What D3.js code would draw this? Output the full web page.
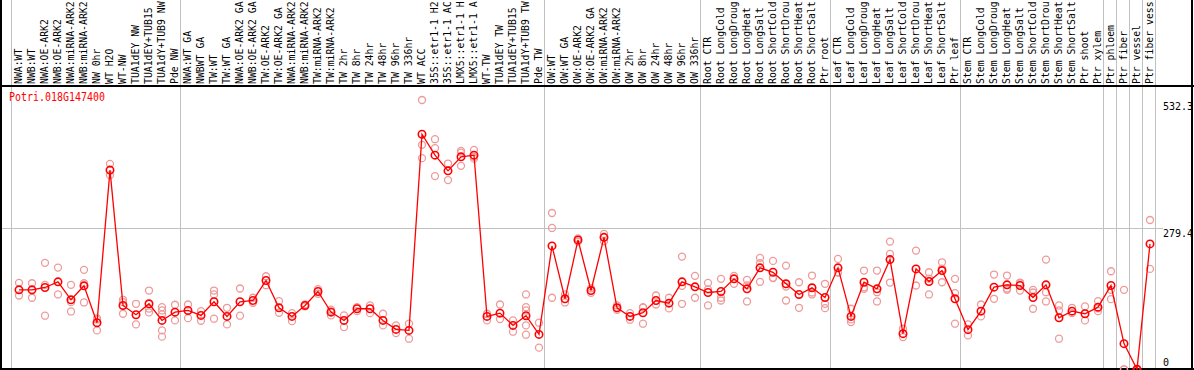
<!DOCTYPE html>
<html><head><meta charset="utf-8">
<script src="https://cdn.jsdelivr.net/npm/d3@7"></script>
<style>body{margin:0;background:#fff}svg{display:block}</style>
</head><body>
<script>
const geneName = "Potri.018G147400";
const categories = ["NWA:WT","NWB:WT","NWA:OE-ARK2","NWB:OE-ARK2","NWA:miRNA-ARK2","NWB:miRNA-ARK2","NW 0hr","WT H2O","WT-NW","TUA1dEY NW","TUA1dEY+TUB15","TUA1dY+TUB9 NW","Pde NW",
"NWA:WT GA","NWBWT GA","TW:WT","TW:WT GA","NWA:OE-ARK2 GA","NWB:OE-ARK2 GA","TW:OE-ARK2","TW:OE-ARK2 GA","NWA:miRNA-ARK2","NWB:miRNA-ARK2","TW:miRNA-ARK2","TW:miRNA-ARK2","TW 2hr","TW 8hr","TW 24hr","TW 48hr","TW 96hr","TW 336hr","WT ACC","35S::etr1-1 H2","35S::etr1-1 AC","LMX5::etr1-1 H","LMX5::etr1-1 A","WT-TW","TUA1dEY TW","TUA1dEY+TUB15","TUA1dY+TUB9 TW","Pde TW",
"OW:WT","OW:WT GA","OW:OE-ARK2","OW:OE-ARK2 GA","OW:miRNA-ARK2","OW:miRNA-ARK2","OW 2hr","OW 8hr","OW 24hr","OW 48hr","OW 96hr","OW 336hr",
"Root CTR","Root LongCold","Root LongDroug","Root LongHeat","Root LongSalt","Root ShortCold","Root ShortDrou","Root ShortHeat","Root ShortSalt","Ptr root",
"Leaf CTR","Leaf LongCold","Leaf LongDroug","Leaf LongHeat","Leaf LongSalt","Leaf ShortCold","Leaf ShortDrou","Leaf ShortHeat","Leaf ShortSalt","Ptr leaf",
"Stem CTR","Stem LongCold","Stem LongDroug","Stem LongHeat","Stem LongSalt","Stem ShortCold","Stem ShortDrou","Stem ShortHeat","Stem ShortSalt","Ptr shoot","Ptr xylem",
"Ptr phloem","Ptr fiber","Ptr vessel","Ptr fiber vess"];
const groupStarts = [0,13,41,53,63,73,84,85,86,87,88];
const means = [157.1,157.1,161.7,172.9,137.4,165.0,92.1,393.7,126.2,107.8,129.5,96.6,113.0,
116.3,106.5,133.5,104.5,133.5,136.0,175.5,121.6,104.5,126.2,153.8,113.0,96.6,119.7,119.7,96.6,78.9,76.9,464.7,423.3,392.3,419.9,423.3,104.5,111.0,86.7,105.9,69.0,
243.9,139.4,255.7,155.7,260.8,121.6,104.5,111.8,136.0,130.7,172.9,163.0,
151.8,153.8,178.8,159.1,200.5,191.8,169.0,147.9,161.1,141.9,
200.5,104.5,172.1,159.1,216.9,70.4,198.5,173.5,195.2,139.4,
78.3,114.9,162.3,167.0,165.6,141.9,167.0,101.9,114.9,109.8,122.8,
165.6,50.7,0,247.8];
const replicates = [[170.9,145.9],[170.1,141.4],[210.4,167.0,105.9],[201.1,147.9],[167.0,132.7,114.3],[196.6,170.1,132.1],[100.5,98.5,76.9],[406.1,383.8],[137.4,132.7,109.8],[129.5,88.7],[155.7,120.0,112.4],[122.8,116.3,108.4,76.9,64.5],[127.6,96.6],
[128.1,101.1],[114.9,96.0],[155.7,147.9,100.0],[121.6,88.7],[159.7,105.9],[141.4,131.5],[183.9,166.2],[134.7,111.8],[111.0,95.2],[128.1,124.3],[158.3,149.3],[118.0,106.5,114.5],[106.5,83.4],[122.8,114.9],[126.2,111.0],[109.8,86.7],[86.7,71.6],[90.1,60.5],[532.3,443.6,417.4],[454.8,437.1,381.9],[406.7,374.0],[431.8,428.4,402.2],[433.7,419.9,416.3],[109.8,96.6],[128.1,99.2],[96.6,74.3],[147.9,122.8,116.3,86.7,68.4],[92.1,42.8],
[308.9,279.4,141.4],[147.9,132.1],[258.8,252.6],[160.0,151.2],[267.5,252.9],[126.2,117.7],[111.0,98.0],[122.8,122.0,90.1],[145.9,128.1],[141.4,120.3],[222.8,165.0,129.5],[184.7,141.4],
[170.9,158.0,126.2],[178.8,141.4,136.0],[184.7,169.0],[176.8,166.0,134.1],[220.2,209.6,172.9],[214.3,180.8,180.3],[205.0,163.6,136.0],[172.1,121.6],[185.3,151.8,147.9],[169.0,129.5,120.9],
[218.2,191.8,191.2],[119.7,98.6,93.3],[195.2,162.0,159.1],[195.2,152.4,134.1],[252.4,228.1,171.5],[80.2,63.7],[234.6,165.6],[191.8,179.4,147.9],[211.5,199.1,172.1],[178.8,150.4,90.1],
[88.7,67.0],[128.1,104.5],[187.3,139.4],[185.3,159.7,157.1],[171.5,170.1,155.7],[157.1,151.8,119.7],[216.9,152.4,134.1],[126.2,116.3,60.5],[121.6,111.0],[124.2,96.6],[134.7,120.3,114.9],
[193.8,157.1,138.6],[157.1,0,0],[0,0],[295.1,198.5]];
const yTicks = [532.3, 279.4, 0];
const gridValues = [279.4];

const W = 1194, H = 370;
const svg = d3.select("body").append("svg").attr("width", W).attr("height", H)
  .style("font-family", "'DejaVu Sans Mono', 'Liberation Mono', monospace");
svg.append("rect").attr("width", W).attr("height", H).attr("fill", "#fff");

const x = d3.scaleBand().domain(categories.map((c,i)=>i)).range([11, 1155]).padding(0);
const px = i => x(i) + 8;
const y = d3.scaleLinear().domain([0, 532.3]).range([369.3, 100]);

// group separators (vertical grid)
svg.append("g").selectAll("line").data(groupStarts).join("line")
  .attr("x1", g => 11 + x.step() * g).attr("x2", g => 11 + x.step() * g)
  .attr("y1", 0).attr("y2", H).attr("stroke", "#c0c0c0").attr("stroke-width", 1)
  .attr("shape-rendering", "crispEdges");

// horizontal grid
svg.append("g").selectAll("line").data(gridValues).join("line")
  .attr("x1", 1).attr("x2", 1163).attr("y1", d => Math.round(y(d)) + 0.5).attr("y2", d => Math.round(y(d)) + 0.5)
  .attr("stroke", "#c0c0c0").attr("stroke-width", 1);

// frame
const frame = svg.append("g").attr("stroke", "#000").attr("stroke-width", 1.5).attr("shape-rendering","crispEdges");
frame.append("line").attr("x1", 1).attr("x2", 1).attr("y1", 0).attr("y2", H);
frame.append("line").attr("x1", 1192).attr("x2", 1192).attr("y1", 0).attr("y2", H);
frame.append("line").attr("x1", 0).attr("x2", W).attr("y1", 86).attr("y2", 86);
frame.append("line").attr("x1", 0).attr("x2", W).attr("y1", 369).attr("y2", 369);

// category labels
svg.append("g").selectAll("text").data(categories).join("text")
  .attr("transform", (c,i) => `translate(${px(i) + 2.5},84) rotate(-90)`)
  .attr("font-size", 9.8).attr("fill", "#000").text(c => c);

// title
svg.append("text").attr("x", 9).attr("y", 101).attr("fill", "#ff0000")
  .attr("font-size", 12).attr("textLength", 96).attr("lengthAdjust", "spacingAndGlyphs").text(geneName);

// right axis labels
svg.append("g").selectAll("text").data(yTicks).join("text")
  .attr("x", 1163).attr("y", d => d === 0 ? y(d) - 3 : y(d) + 9.5)
  .attr("font-size", 10).attr("fill", "#000").text(d => d);

// replicates
const reps = [];
replicates.forEach((arr, i) => arr.forEach(v => reps.push({i, v})));
svg.append("g").selectAll("circle").data(reps).join("circle")
  .attr("cx", d => px(d.i)).attr("cy", d => y(d.v)).attr("r", 3.5)
  .attr("fill", "none").attr("stroke", "#ee9a9a").attr("stroke-width", 1.3);

// mean line
svg.append("path").datum(means)
  .attr("d", d3.line().x((v,i) => px(i)).y(v => y(v)))
  .attr("fill", "none").attr("stroke", "#ff0000").attr("stroke-width", 1.3);

svg.append("g").selectAll("circle").data(means).join("circle")
  .attr("cx", (v,i) => px(i)).attr("cy", v => y(v)).attr("r", 3.7)
  .attr("fill", "none").attr("stroke", "#ff0000").attr("stroke-width", 1.6);
</script>
</body></html>
